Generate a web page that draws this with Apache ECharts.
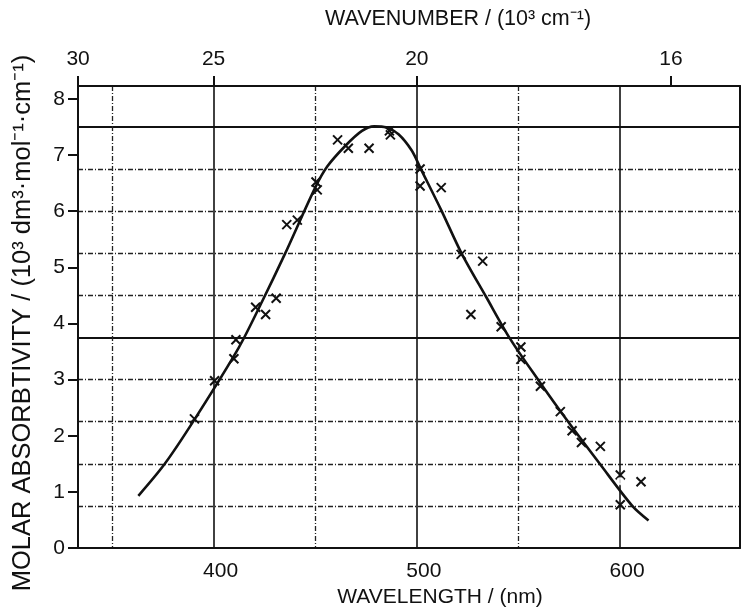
<!DOCTYPE html>
<html>
<head>
<meta charset="utf-8">
<script src="https://cdn.jsdelivr.net/npm/echarts@6/dist/echarts.min.js"></script>
<style>
html,body{margin:0;padding:0;background:#fff;}
#chart{width:741px;height:607px;}
</style>
</head>
<body>
<div id="chart"></div>
<script>
// ---- data (wavelength in nm, absorptivity in 10^3 dm3 mol-1 cm-1) ----
const curveWavelength = [363, 376, 390.8, 412.4, 424, 435, 450, 456, 465, 473, 479, 485, 491, 497.5, 502, 512, 522, 534, 546, 560, 574, 590, 606, 614];
const curveAbsorbance = [0.93, 1.50, 2.30, 3.57, 4.40, 5.23, 6.42, 6.80, 7.17, 7.43, 7.51, 7.49, 7.37, 7.08, 6.75, 6.02, 5.25, 4.48, 3.72, 2.98, 2.27, 1.50, 0.75, 0.49];

const pointWavelength = [390.6, 400.5, 410, 411, 420.7, 425.6, 430.8, 436, 441.2, 450.4, 451, 461, 466.3, 476.5, 486.5, 487, 501.6, 501.6, 512, 521.8, 532.4, 526.6, 541.5, 551.2, 551.2, 560.8, 570.6, 576.4, 581, 590.3, 600.1, 600.1, 610.3];
const pointAbsorbance = [2.30, 2.98, 3.37, 3.71, 4.29, 4.16, 4.45, 5.76, 5.84, 6.52, 6.38, 7.27, 7.12, 7.12, 7.43, 7.36, 6.75, 6.45, 6.42, 5.23, 5.11, 4.16, 3.94, 3.58, 3.36, 2.88, 2.43, 2.09, 1.88, 1.81, 1.30, 0.77, 1.18];

const circleWavelength = [600.1];
const circleAbsorbance = [1.19];

// ---- ticks ----
const wavelengthTicks = [400, 500, 600];          // bottom axis labels (nm)
const wavenumberTicks = [30, 25, 20, 16];         // top axis labels (10^3 cm^-1)
const absorbanceTicks = [0, 1, 2, 3, 4, 5, 6, 7, 8];
const majorGridX = [400, 500, 600];
const minorGridX = [350, 450, 550];
const majorGridY = [3.75, 7.5];
const minorGridY = [0.75, 1.5, 2.25, 3.0, 4.5, 5.25, 6.0, 6.75];

const X_MIN = 333.3, X_MAX = 659, Y_MIN = 0, Y_MAX = 8.23;
const FONT = "'Liberation Sans', Arial, sans-serif";
const INK = '#111';

const wavenumberPos = wavenumberTicks.map(v => 1e4 / v);

const chart = echarts.init(document.getElementById('chart'), null, {renderer: 'canvas'});

const option = {
  backgroundColor: '#fff',
  animation: false,
  textStyle: {fontFamily: FONT, color: INK},
  grid: {left: 78, right: 1, top: 86, bottom: 59, containLabel: false, outerBoundsMode: 'none'},
  xAxis: [
    {
      type: 'value', position: 'bottom', min: X_MIN, max: X_MAX,
      axisLine: {show: true, onZero: false, lineStyle: {color: INK, width: 2}},
      axisTick: {show: false, customValues: majorGridX},
      axisLabel: {customValues: wavelengthTicks, fontSize: 21, fontFamily: FONT, color: INK, margin: 13, padding: [0, 0, 0, 14]},
      splitLine: {show: true, lineStyle: {color: INK, width: 1.6, type: 'solid'}},
      name: 'WAVELENGTH / (nm)', nameLocation: 'middle', nameGap: 36,
      nameTextStyle: {fontSize: 21, fontFamily: FONT, color: INK, padding: [0, 0, 0, 62]}
    },
    {
      type: 'value', position: 'top', min: X_MIN, max: X_MAX,
      axisLine: {show: true, onZero: false, lineStyle: {color: INK, width: 2}},
      axisTick: {show: true, customValues: wavenumberPos, length: 10, inside: false, lineStyle: {color: INK, width: 2}},
      axisLabel: {customValues: wavenumberPos, fontSize: 21, fontFamily: FONT, color: INK, margin: 16,
        formatter: v => String(Math.round(1e4 / v))},
      splitLine: {show: false},
      name: 'WAVENUMBER / (10³ cm⁻¹)', nameLocation: 'middle', nameGap: 56,
      nameTextStyle: {fontSize: 21.5, fontFamily: FONT, color: INK, padding: [0, 0, 0, 98]}
    },
    {
      type: 'value', position: 'bottom', min: X_MIN, max: X_MAX,
      axisLine: {show: false}, axisLabel: {show: false},
      axisTick: {show: false, customValues: minorGridX},
      splitLine: {show: true, lineStyle: {color: '#222', width: 1.3, type: [5, 2, 1, 2]}}
    }
  ],
  yAxis: [
    {
      type: 'value', position: 'left', min: Y_MIN, max: Y_MAX,
      axisLine: {show: true, onZero: false, lineStyle: {color: INK, width: 2}},
      axisTick: {show: true, customValues: absorbanceTicks, length: 10, lineStyle: {color: INK, width: 2}},
      axisLabel: {customValues: absorbanceTicks, fontSize: 21, fontFamily: FONT, color: INK, margin: 13},
      splitLine: {show: false},
      name: 'MOLAR ABSORBTIVITY / (10³ dm³·mol⁻¹·cm⁻¹)', nameLocation: 'middle', nameGap: 42, nameRotate: 90,
      nameTextStyle: {fontSize: 25.5, fontFamily: FONT, color: INK, padding: [0, 12, 0, 0]}
    },
    {
      type: 'value', position: 'right', min: Y_MIN, max: Y_MAX,
      axisLine: {show: true, onZero: false, lineStyle: {color: INK, width: 2}},
      axisTick: {show: false, customValues: minorGridY},
      axisLabel: {show: false},
      splitLine: {show: true, lineStyle: {color: '#222', width: 1.3, type: [5, 2, 1, 2]}}
    },
    {
      type: 'value', position: 'right', min: Y_MIN, max: Y_MAX,
      axisLine: {show: false},
      axisTick: {show: false, customValues: majorGridY},
      axisLabel: {show: false},
      splitLine: {show: true, lineStyle: {color: INK, width: 1.8, type: 'solid'}}
    }
  ],
  series: [
    {
      type: 'line', xAxisIndex: 0, yAxisIndex: 0,
      data: curveWavelength.map((x, i) => [x, curveAbsorbance[i]]),
      smooth: 0.3, showSymbol: false, symbol: 'none',
      lineStyle: {color: INK, width: 2.6}, z: 3
    },
    {
      type: 'scatter', xAxisIndex: 0, yAxisIndex: 0,
      data: pointWavelength.map((x, i) => [x, pointAbsorbance[i]]),
      symbol: 'path://M0 0L10 10M10 0L0 10', symbolSize: 9,
      itemStyle: {color: 'rgba(0,0,0,0)', borderColor: INK, borderWidth: 2, opacity: 1}, z: 4
    },
    {
      type: 'scatter', xAxisIndex: 0, yAxisIndex: 0,
      data: circleWavelength.map((x, i) => [x, circleAbsorbance[i]]),
      symbol: 'emptyCircle', symbolSize: 6,
      itemStyle: {color: '#fff', borderColor: INK, borderWidth: 1.5}, z: 4
    }
  ]
};
chart.setOption(option);
</script>
</body>
</html>
